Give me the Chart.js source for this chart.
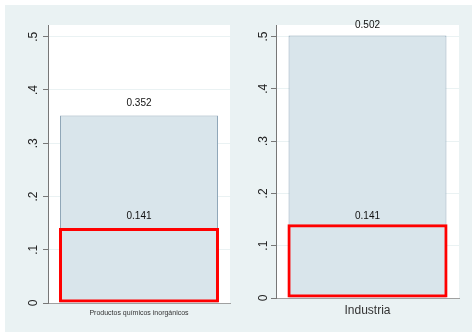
<!DOCTYPE html>
<html>
<head>
<meta charset="utf-8">
<script src="https://cdn.jsdelivr.net/npm/chart.js@4/dist/chart.umd.min.js"></script>
<style>
  html, body { margin: 0; padding: 0; background: #ffffff; }
  #wrap { position: relative; width: 472px; height: 332px; background: #ffffff; overflow: hidden; }
  #bg { position: absolute; left: 5px; top: 5px; width: 467px; height: 327px; background: #eaf2f3; }
  canvas { position: absolute; }
</style>
</head>
<body>
<div id="wrap">
  <div id="bg"></div>
  <canvas id="c1" width="231" height="327" style="left:5px;top:5px;width:231px;height:327px"></canvas>
  <canvas id="c2" width="236" height="327" style="left:236px;top:5px;width:236px;height:327px"></canvas>
</div>
<script>
// ---- data ----
const categoriesLeft = ['Productos químicos inorgánicos'];
const valuesLeft = [0.352];
const refLeft = [0.141];
const categoriesRight = ['Industria'];
const valuesRight = [0.502];
const refRight = [0.141];
const yTickValues = [0, 0.1, 0.2, 0.3, 0.4, 0.5];
const yTickLabels = ['0', '.1', '.2', '.3', '.4', '.5'];
const yMax = 0.522;

const FONT = 'Arial, "Liberation Sans", Helvetica, sans-serif';

const plotBg = {
  id: 'plotBg',
  beforeDraw(chart) {
    const a = chart.chartArea;
    const ctx = chart.ctx;
    ctx.save();
    ctx.fillStyle = '#ffffff';
    ctx.fillRect(a.left, a.top, a.right - a.left, a.bottom - a.top);
    ctx.restore();
  }
};

const valueLabels = {
  id: 'valueLabels',
  afterDatasetsDraw(chart, args, opts) {
    const ctx = chart.ctx;
    ctx.save();
    ctx.fillStyle = '#111';
    ctx.font = '10px ' + FONT;
    ctx.textAlign = 'center';
    ctx.textBaseline = 'middle';
    chart.data.datasets.forEach((ds, i) => {
      const meta = chart.getDatasetMeta(i);
      meta.data.forEach((el, j) => {
        const off = opts.offsets[i];
        ctx.fillText(ds.data[j].toFixed(3), el.x, el.y - off);
      });
    });
    ctx.restore();
  }
};

const rotatedYLabels = {
  id: 'rotatedYLabels',
  afterDraw(chart, args, opts) {
    const ctx = chart.ctx;
    const y = chart.scales.y;
    ctx.save();
    ctx.fillStyle = '#222';
    ctx.font = '12px ' + FONT;
    ctx.textAlign = 'center';
    ctx.textBaseline = 'middle';
    yTickValues.forEach((v, i) => {
      const py = y.getPixelForValue(v);
      ctx.save();
      ctx.translate(y.right - opts.dist, py);
      ctx.rotate(-Math.PI / 2);
      ctx.fillText(yTickLabels[i], 0, 0);
      ctx.restore();
    });
    ctx.restore();
  }
};

function makeChart(id, cats, vals, refs, cfg) {
  return new Chart(document.getElementById(id), {
    type: 'bar',
    data: {
      labels: cats,
      datasets: [
        {
          data: vals,
          backgroundColor: '#d9e5eb',
          borderColor: '#8fa6b8',
          borderWidth: 1,
          borderSkipped: false,
          barPercentage: cfg.barPct,
          categoryPercentage: 1,
          order: 1
        },
        {
          data: refs,
          backgroundColor: 'rgba(0,0,0,0)',
          borderColor: '#ff0000',
          borderWidth: 3,
          borderSkipped: false,
          barPercentage: cfg.redPct,
          categoryPercentage: 1,
          order: 0
        }
      ]
    },
    options: {
      responsive: false,
      animation: false,
      devicePixelRatio: 1,
      layout: { padding: { top: 20, right: cfg.padRight, left: 0, bottom: 0 } },
      plugins: {
        legend: { display: false },
        tooltip: { enabled: false },
        valueLabels: { offsets: cfg.offsets },
        rotatedYLabels: { dist: cfg.labelDist }
      },
      scales: {
        x: {
          stacked: true,
          grid: { display: false, drawTicks: false },
          border: { color: '#a0a0a0', width: 1 },
          ticks: { color: '#333', font: { family: FONT, size: cfg.xFont }, padding: cfg.xPad, maxRotation: 0 },
          afterFit: s => { s.height = cfg.xHeight; }
        },
        y: {
          min: 0,
          max: yMax,
          afterBuildTicks: s => { s.ticks = yTickValues.map(v => ({ value: v })); },
          grid: { color: '#eaf2f3', lineWidth: 1, tickColor: '#777', tickLength: 5, drawTicks: true },
          border: { color: '#777', width: 1 },
          ticks: { display: false },
          afterFit: s => { s.width = cfg.yWidth; }
        }
      }
    },
    plugins: [plotBg, valueLabels, rotatedYLabels]
  });
}

makeChart('c1', categoriesLeft, valuesLeft, refLeft, {
  barPct: 0.868, redPct: 0.879, padRight: 6, yWidth: 43, xHeight: 29,
  xFont: 7, xPad: 6, offsets: [12, 12], labelDist: 14
});
makeChart('c2', categoriesRight, valuesRight, refRight, {
  barPct: 0.863, redPct: 0.875, padRight: 13, yWidth: 40, xHeight: 34,
  xFont: 12, xPad: 5, offsets: [10, 8], labelDist: 12
});
</script>
</body>
</html>
